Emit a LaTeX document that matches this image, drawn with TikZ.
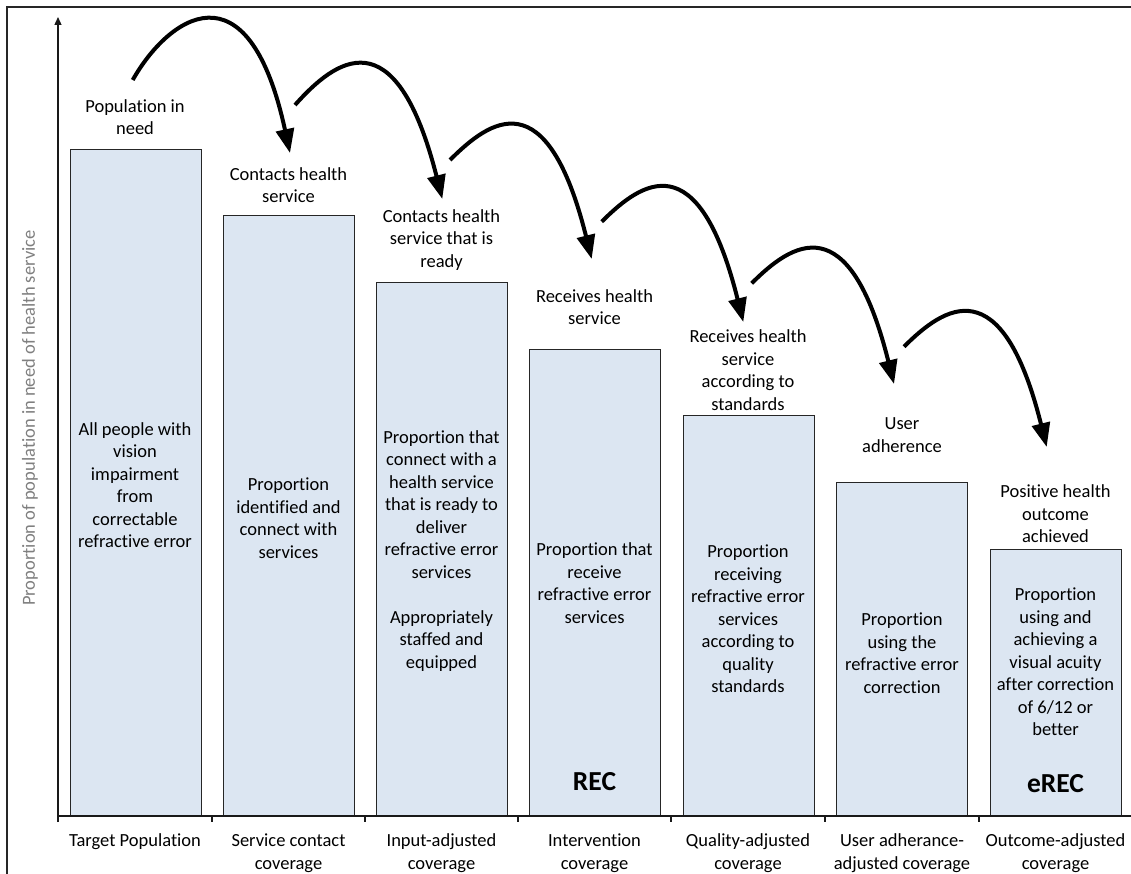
\documentclass[tikz,border=0pt]{standalone}
\usepackage{fontspec}
\setmainfont{Carlito}[Ligatures=NoCommon]
\usetikzlibrary{arrows.meta,calc}
\definecolor{barfill}{HTML}{DCE6F2}
\definecolor{axisgray}{HTML}{7F7F7F}
\begin{document}
\begin{tikzpicture}[x=1pt,y=-1pt,
  bar/.style={draw=black!85, line width=1.2pt, fill=barfill, minimum width=131pt, inner sep=0pt, anchor=south west},
  lbl/.style={align=center, font=\fontsize{18.5}{22.5}\selectfont, inner sep=0pt},
  tag/.style={font=\fontsize{27.5}{30}\selectfont\bfseries, inner sep=0pt},
  jump/.style={line width=4pt, -{Triangle[width=18pt,length=24pt]}},
  axisline/.style={line width=1.3pt, black!90}
]
\useasboundingbox (0,0) rectangle (1131,874);
% frame
\draw[line width=1.5pt, black!85] (7,874) -- (7,7) -- (1131,7);

% bars
\node[bar, minimum height=666pt] (b1) at (70,816) {};
\node[bar, minimum height=600pt] (b2) at (223,816) {};
\node[bar, minimum height=533pt] (b3) at (376,816) {};
\node[bar, minimum height=466pt] (b4) at (529,816) {};
\node[bar, minimum height=400pt] (b5) at (683,816) {};
\node[bar, minimum height=333pt] (b6) at (836,816) {};
\node[bar, minimum height=266pt] (b7) at (990,816) {};

% axes
\draw[axisline, -{Triangle[width=7pt,length=8pt]}] (58,822) -- (58,17);
\draw[axisline] (58,816) -- (1131,816);
\foreach \t in {212,365,518,671,825,979} \draw[axisline] (\t,816) -- (\t,822);
\node[lbl, text=axisgray, rotate=90] (ylab) at (30,418) {Proportion of population in need of health service};

% stage labels above the bars
\node[lbl] (t1) at (135,117) {Population in\\need};
\node[lbl] (t2) at (288.5,185) {Contacts health\\service};
\node[lbl] (t3) at (441.5,240) {Contacts health\\service that is\\ready};
\node[lbl] (t4) at (594.5,307) {Receives health\\service};
\node[lbl] (t5) at (748,370) {Receives health\\service\\according to\\standards};
\node[lbl] (t6) at (902,435) {User\\adherence};
\node[lbl] (t7) at (1055.5,514) {Positive health\\outcome\\achieved};

% descriptions inside the bars
\node[lbl] (p1) at (135,485) {All people with\\vision\\impairment\\from\\correctable\\refractive error};
\node[lbl] (p2) at (288.5,518) {Proportion\\identified and\\connect with\\services};
\node[lbl] (p3) at (441.5,551) {Proportion that\\connect with a\\health service\\that is ready to\\deliver\\refractive error\\services\\[22.5pt]Appropriately\\staffed and\\equipped};
\node[lbl] (p4) at (594.5,583) {Proportion that\\receive\\refractive error\\services};
\node[lbl] (p5) at (748,619) {Proportion\\receiving\\refractive error\\services\\according to\\quality\\standards};
\node[lbl] (p6) at (902,653) {Proportion\\using the\\refractive error\\correction};
\node[lbl] (p7) at (1055.5,662) {Proportion\\using and\\achieving a\\visual acuity\\after correction\\of 6/12 or\\better};
\node[tag] (rec) at (594.5,782) {REC};
\node[tag] (erec) at (1055.5,784) {eREC};

% coverage categories under the axis
\node[lbl] (c1) at (135,842) {Target Population};
\node[lbl] (c2) at (288.5,853) {Service contact\\coverage};
\node[lbl] (c3) at (441.5,853) {Input-adjusted\\coverage};
\node[lbl] (c4) at (594.5,853) {Intervention\\coverage};
\node[lbl] (c5) at (748,853) {Quality-adjusted\\coverage};
\node[lbl] (c6) at (902,853) {User adherance-\\adjusted coverage};
\node[lbl] (c7) at (1055.5,853) {Outcome-adjusted\\coverage};

% curved arrows between the stages
\coordinate (a1s) at (132.7,80);   \coordinate (a1e) at (290,153);
\coordinate (a2s) at (295,105);    \coordinate (a2e) at (442.3,199);
\coordinate (a3s) at (450,160);    \coordinate (a3e) at (591.7,259);
\coordinate (a4s) at (601.7,221.7);\coordinate (a4e) at (743.3,322);
\coordinate (a5s) at (751.7,283.3);\coordinate (a5e) at (894,384);
\coordinate (a6s) at (904,346.7);  \coordinate (a6e) at (1046.7,447);
\draw[jump] (a1s) .. controls ($(a1s)+(35,-62)$) and ($(a1e)+(-42,-194)$) .. (a1e);
\draw[jump] (a2s) .. controls ($(a2s)+(40,-45)$) and ($(a2e)+(-47,-185)$) .. (a2e);
\foreach \i in {3,4,5,6}
  \draw[jump] (a\i s) .. controls ($(a\i s)+(40,-40)$) and ($(a\i e)+(-45,-180)$) .. (a\i e);
\end{tikzpicture}
\end{document}
